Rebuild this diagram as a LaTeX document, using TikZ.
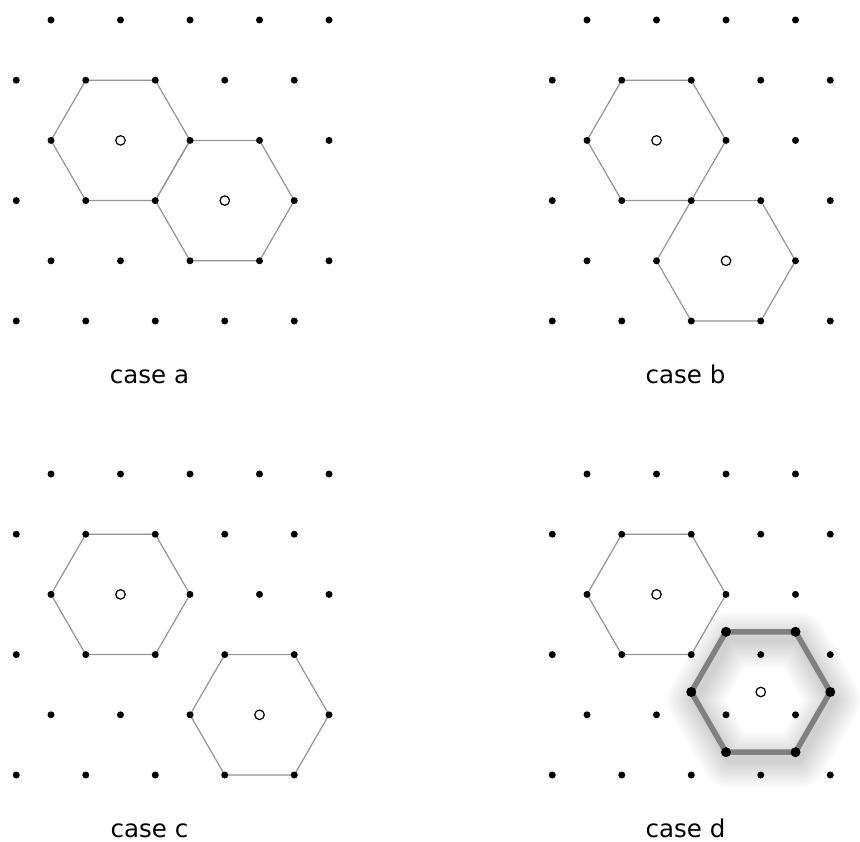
\documentclass[tikz,border=0pt]{standalone}
\usepackage{fontspec}
\setmainfont{DejaVu Sans}
\usetikzlibrary{positioning}

% closed hexagon of side 69.5 round a given centre
\newcommand{\hexagon}[2]{\draw[#1, shift={#2}] (0:69.5) \foreach \a in {60,120,...,300} {-- (\a:69.5)} -- cycle;}

\begin{document}
\begin{tikzpicture}[x=1pt, y=-1pt,
  dot/.style={circle, fill=black, inner sep=0pt, minimum size=7pt},
  bigdot/.style={circle, fill=black, inner sep=0pt, minimum size=10pt},
  hole/.style={circle, draw=black, fill=white, line width=1.2pt, inner sep=0pt, minimum size=9.5pt},
  hexline/.style={draw=black!42, line width=1.2pt},
  thickhex/.style={draw=black!50, line width=5.5pt, line join=round},
  caption/.style={font=\fontsize{24.5}{28}\selectfont, anchor=base}
]
\useasboundingbox (0,0) rectangle (860,842);

% soft shadow of the moved hexagon
\foreach \k in {1,...,16}{
  \hexagon{black, opacity=0.011, line width={\k*3.5pt}, line join=round}{(764,700)}
}

% hexagons on the lattice
\hexagon{hexline}{(120.5,140.4)}
\hexagon{hexline}{(224.75,200.6)}
\hexagon{hexline}{(656.5,140.4)}
\hexagon{hexline}{(726,260.8)}
\hexagon{hexline}{(120.5,594.4)}
\hexagon{hexline}{(259.5,714.8)}
\hexagon{hexline}{(656.5,594.4)}

% lattice points and captions
\foreach \ox/\oy/\p in {0/0/a, 536/0/b, 0/454/c, 536/454/d}{
  \foreach \i in {0,...,5}
    \foreach \j in {0,...,4}
      \node[dot] (\p-\i-\j) at ({\ox+51-34.75*mod(\i,2)+69.5*\j}, {\oy+20+60.2*\i}) {};
  \node[caption] (case-\p) at (\ox+149.5, \oy+383.5) {case \p};
}

% moved hexagon in case d
\begin{scope}[shift={(760.75,692)}]
  \hexagon{thickhex}{(0,0)}
  \foreach \a in {0,60,...,300}
    \node[bigdot] (d-v\a) at (\a:69.5) {};
  \node[hole] (d-c2) at (0,0) {};
\end{scope}

% centres
\node[hole] (a-c1) at (120.5,140.4) {};
\node[hole] (a-c2) at (224.75,200.6) {};
\node[hole] (b-c1) at (656.5,140.4) {};
\node[hole] (b-c2) at (726,260.8) {};
\node[hole] (c-c1) at (120.5,594.4) {};
\node[hole] (c-c2) at (259.5,714.8) {};
\node[hole] (d-c1) at (656.5,594.4) {};
\end{tikzpicture}
\end{document}
